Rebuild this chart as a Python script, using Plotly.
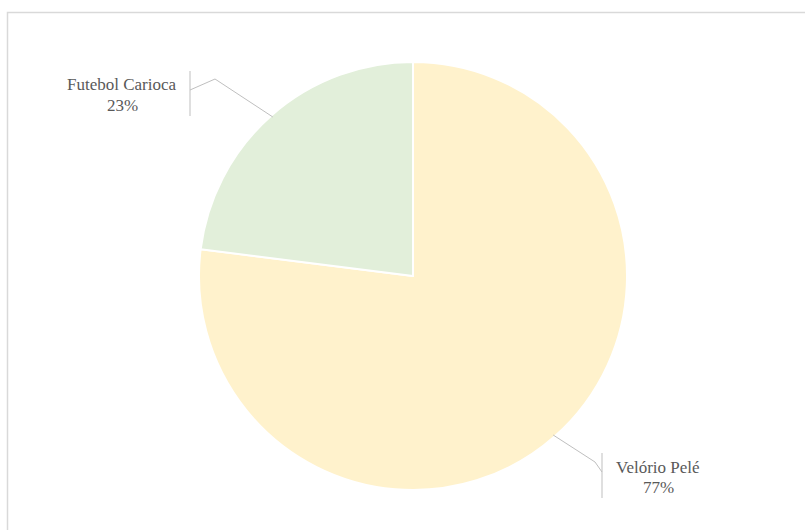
import math
import plotly.graph_objects as go

# Share of mentions by topic
labels = ["Velório Pelé", "Futebol Carioca"]
values = [77, 23]
colors = ["#FFF2CC", "#E2EFDA"]

W, H = 805, 530
CX, CY, R = 413, 276, 214  # pie centre / radius in pixels


def px(x):
    return x / W


def py(y):
    return 1 - y / H


fig = go.Figure(
    go.Pie(
        labels=labels,
        values=values,
        marker=dict(colors=colors, line=dict(color="white", width=2)),
        textinfo="none",
        hoverinfo="label+percent",
        sort=False,
        direction="clockwise",
        rotation=0,
        showlegend=False,
        domain=dict(x=[px(CX - R), px(CX + R)], y=[py(CY + R), py(CY - R)]),
    )
)

total = sum(values)
shapes = []
annotations = []
line_style = dict(color="#BFBFBF", width=1)
label_font = dict(family="Liberation Serif, Times New Roman, serif", size=17, color="#595959")

# label placement per slice: leader elbow, tick x, text centre (first line)
label_layout = {
    "Velório Pelé": dict(elbow=(595, 462), tick_x=602, text=(658, 467)),
    "Futebol Carioca": dict(elbow=(215, 79), tick_x=190, text=(122, 85)),
}

start = 0.0
for lab, val in zip(labels, values):
    frac = val / total
    mid = (start + frac / 2) * 2 * math.pi  # clockwise from 12 o'clock
    ex = CX + (R - 2) * math.sin(mid)
    ey = CY - (R - 2) * math.cos(mid)
    lay = label_layout[lab]
    bx, by = lay["elbow"]
    tx = lay["tick_x"]
    text_x, text_y = lay["text"]
    tick_mid = text_y + 8
    path = f"M {px(ex)},{py(ey)} L {px(bx)},{py(by)} L {px(tx)},{py(tick_mid - 3)}"
    shapes.append(dict(type="path", xref="paper", yref="paper", path=path, line=line_style))
    shapes.append(dict(type="line", xref="paper", yref="paper",
                       x0=px(tx), x1=px(tx), y0=py(tick_mid - 22), y1=py(tick_mid + 23),
                       line=line_style))
    for i, line in enumerate([lab, f"{round(frac * 100)}%"]):
        annotations.append(dict(
            x=px(text_x), y=py(text_y + 20 * i), xref="paper", yref="paper",
            text=line, showarrow=False, xanchor="center", yanchor="middle",
            font=label_font,
        ))
    start += frac

# chart frame
shapes.append(dict(type="rect", xref="paper", yref="paper",
                   x0=px(7.5), x1=px(830), y0=py(12.5), y1=py(560),
                   line=dict(color="#D9D9D9", width=1.5)))

fig.update_layout(
    width=W, height=H,
    margin=dict(l=0, r=0, t=0, b=0),
    paper_bgcolor="white",
    plot_bgcolor="white",
    font=dict(family="Liberation Serif, Times New Roman, serif"),
    shapes=shapes,
    annotations=annotations,
)

fig.write_html("out.html")
